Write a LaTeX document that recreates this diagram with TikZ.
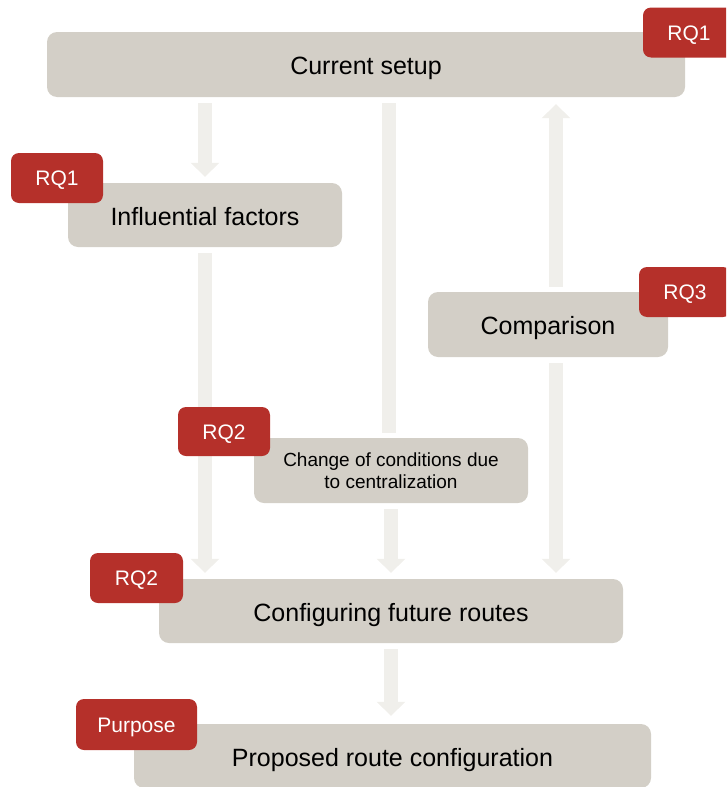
\documentclass[tikz,border=0pt]{standalone}
\usepackage{fontspec}
\setmainfont{Liberation Sans}
\usetikzlibrary{arrows.meta}

\definecolor{boxgray}{HTML}{D3CFC7}
\definecolor{tagred}{HTML}{B5302A}
\definecolor{flowgray}{HTML}{F0EFEB}

\tikzset{
  stage/.style={fill=boxgray, rounded corners=10pt, inner sep=0pt,
    font=\fontsize{25}{30}\selectfont, text height=20pt, text depth=0pt},
  substage/.style={fill=boxgray, rounded corners=10pt, inner sep=0pt,
    font=\fontsize{19}{22}\selectfont, align=center},
  tag/.style={fill=tagred, rounded corners=8pt, inner sep=0pt, text=white,
    font=\fontsize{21}{25}\selectfont, text height=15pt, text depth=0pt},
  flow/.style={draw=flowgray, line width=14pt, line cap=butt,
    shorten <=6pt, shorten >=6pt},
  flowhead/.style={flow, -{Triangle[width=28pt,length=14pt]}},
}

\begin{document}
\begin{tikzpicture}[x=1pt, y=-1pt]
\useasboundingbox (0,0) rectangle (726,787);
\clip (0,0) rectangle (726,787);

% stages
\node[stage, minimum width=638pt, minimum height=65pt] (cur)  at (366,64.5) {Current setup};
\node[stage, minimum width=274pt, minimum height=64pt] (infl) at (205,215)  {Influential factors};
\node[stage, minimum width=240pt, minimum height=65pt] (cmp)  at (548,324.5) {Comparison};
\node[substage, minimum width=274pt, minimum height=65pt] (chg) at (391,470.5)
  {Change of conditions due\\to centralization};
\node[stage, minimum width=464pt, minimum height=64pt] (conf) at (391,611)  {Configuring future routes};
\node[stage, minimum width=517pt, minimum height=64pt] (prop) at (392.5,756) {Proposed route configuration};

% anchor points for the offset comparison arrows
\coordinate (cmpS) at ([xshift=8pt]cmp.south);
\coordinate (cmpN) at ([xshift=8pt]cmp.north);

% flows
\draw[flowhead] (cur.south -| infl) -- (infl.north);
\draw[flow, shorten >=5pt] ([xshift=-2pt]cur.south -| chg) -- ([xshift=-2pt]chg.north);
\draw[flowhead] (chg.south) -- (conf.north -| chg);
\draw[flowhead] (infl.south) -- (conf.north -| infl);
\draw[flowhead] (cmpS) -- (cmpS |- conf.north);
\draw[flowhead, shorten <=5pt, shorten >=7pt] (cmpN) -- (cmpN |- cur.south);
\draw[flowhead, shorten >=8pt] (conf.south) -- (prop.north -| conf);

% research question tags
\node[tag, minimum width=92pt, minimum height=50pt] (tCur)  at (689,32.5)  {RQ1};
\node[tag, minimum width=92pt, minimum height=50pt] (tInfl) at (57,178)    {RQ1};
\node[tag, minimum width=92pt, minimum height=50pt] (tCmp)  at (685,292)   {RQ3};
\node[tag, minimum width=92pt, minimum height=49pt] (tChg)  at (224,431.5) {RQ2};
\node[tag, minimum width=93pt, minimum height=50pt] (tConf) at (136.5,578) {RQ2};
\node[tag, minimum width=121pt, minimum height=51pt] (tProp) at (136.5,724.5) {Purpose};
\end{tikzpicture}
\end{document}
